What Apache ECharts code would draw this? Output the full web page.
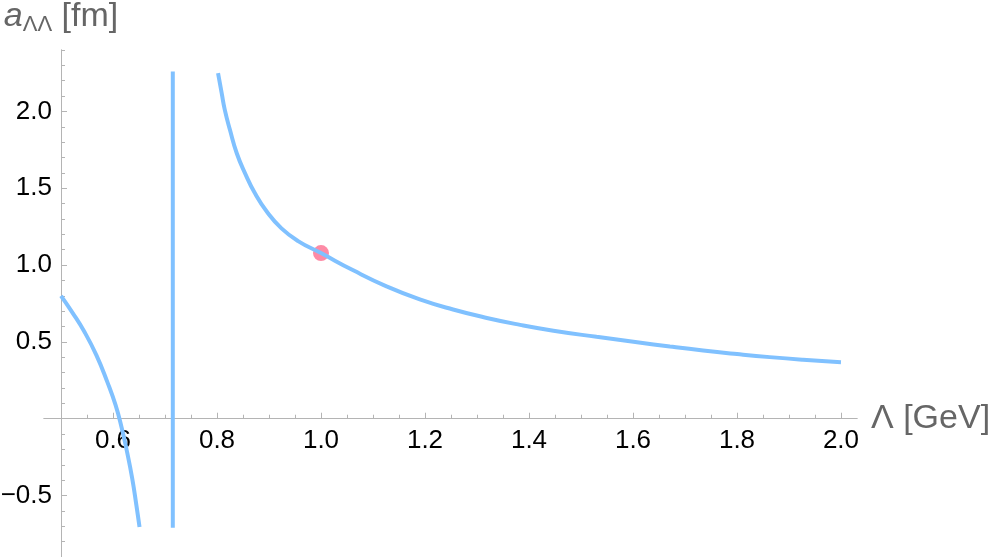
<!DOCTYPE html>
<html>
<head>
<meta charset="utf-8">
<script src="https://cdn.jsdelivr.net/npm/echarts@6/dist/echarts.min.js"></script>
<style>
  html, body { margin: 0; padding: 0; background: #fff; }
  #chart { width: 996px; height: 557px; }
</style>
</head>
<body>
<div id="chart"></div>
<script>
// branch left of the pole
var leftLambda = [0.5, 0.521, 0.545, 0.568, 0.589, 0.605, 0.617, 0.627, 0.637, 0.645, 0.651];
var leftA = [0.80, 0.696, 0.566, 0.414, 0.240, 0.088, -0.064, -0.216, -0.390, -0.564, -0.705];
// branch right of the pole
var rightLambda = [0.802, 0.809, 0.815, 0.825, 0.838, 0.854, 0.873, 0.896, 0.924, 0.956, 1.0, 1.062, 1.126, 1.19, 1.254, 1.319, 1.383, 1.447, 1.53, 1.608, 1.671, 1.735, 1.8, 1.863, 1.927, 2.0];
var rightA = [2.249, 2.119, 2.010, 1.879, 1.728, 1.597, 1.467, 1.347, 1.239, 1.156, 1.078, 0.966, 0.862, 0.777, 0.711, 0.656, 0.611, 0.573, 0.533, 0.498, 0.470, 0.444, 0.421, 0.401, 0.384, 0.368];
// vertical line at the pole
var poleLambda = 0.715;
var poleA = [-0.71, 2.26];
// marked point
var pointLambda = [1.0];
var pointA = [1.078];
// ticks
var xMajorTicks = [0.6, 0.8, 1.0, 1.2, 1.4, 1.6, 1.8, 2.0];
var xMinorTicks = [0.5, 0.55, 0.6, 0.65, 0.7, 0.75, 0.8, 0.85, 0.9, 0.95, 1.0, 1.05, 1.1, 1.15, 1.2, 1.25, 1.3, 1.35, 1.4, 1.45, 1.5, 1.55, 1.6, 1.65, 1.7, 1.75, 1.8, 1.85, 1.9, 1.95, 2.0];
var yMajorTicks = [-0.5, 0.5, 1.0, 1.5, 2.0];
var yMinorTicks = [-0.9, -0.8, -0.7, -0.6, -0.5, -0.4, -0.3, -0.2, -0.1, 0.1, 0.2, 0.3, 0.4, 0.5, 0.6, 0.7, 0.8, 0.9, 1.0, 1.1, 1.2, 1.3, 1.4, 1.5, 1.6, 1.7, 1.8, 1.9, 2.0, 2.1, 2.2, 2.3, 2.4];

function zip(xs, ys) {
  return xs.map(function (x, i) { return [x, ys[i]]; });
}

var axisGray = "#b4b4b4";
var font = "Liberation Sans, Arial, sans-serif";
var curveColor = "#80c1ff";

// grid box: x from 44 to 857, y from 50 to 557
var gridLeft = 44, gridRight = 139, gridTop = 50, gridBottom = 0;
var xMin = 0.4673, xMax = 2.0308, yMin = -0.9, yMax = 2.4;
// y axis sits at Lambda = 0.5, x axis at a = 0
var yAxisShift = -(0.5 - xMin) / (xMax - xMin) * (996 - gridLeft - gridRight);
var xAxisShift = -(0 - yMin) / (yMax - yMin) * (557 - gridTop - gridBottom);

var chart = echarts.init(document.getElementById("chart"));

var fmt = function (v) {
  return (Math.round(v * 10) / 10).toFixed(1).replace("-", "\u2212");
};

option = {
  animation: false,
  grid: { left: gridLeft, right: gridRight, top: gridTop, bottom: gridBottom, outerBoundsMode: "none", containLabel: false },
  xAxis: [
    {
      type: "value",
      position: "bottom",
      offset: xAxisShift,
      min: xMin,
      max: xMax,
      splitLine: { show: false },
      axisLine: { onZero: false, lineStyle: { color: axisGray, width: 1 } },
      axisTick: { inside: true, length: 6, customValues: xMajorTicks, lineStyle: { color: axisGray } },
      axisLabel: { customValues: xMajorTicks, formatter: fmt, color: "#000", fontSize: 26, fontFamily: font, margin: 9 },
      name: "\u039b [GeV]",
      nameLocation: "end",
      nameGap: 14,
      nameTextStyle: { color: "#666", fontSize: 34, fontFamily: font, verticalAlign: "middle" },
    },
    {
      type: "value",
      position: "bottom",
      offset: xAxisShift,
      min: xMin,
      max: xMax,
      splitLine: { show: false },
      axisLine: { onZero: false, lineStyle: { color: axisGray, width: 1 } },
      axisTick: { inside: true, length: 4, customValues: xMinorTicks, lineStyle: { color: axisGray } },
      axisLabel: { show: false },
    },
  ],
  yAxis: [
    {
      type: "value",
      position: "left",
      offset: yAxisShift,
      min: yMin,
      max: yMax,
      splitLine: { show: false },
      axisLine: { onZero: false, lineStyle: { color: axisGray, width: 1 } },
      axisTick: { inside: true, length: 6, customValues: yMajorTicks, lineStyle: { color: axisGray } },
      axisLabel: { customValues: yMajorTicks, formatter: fmt, color: "#000", fontSize: 26, fontFamily: font, margin: 9 },
      name: "{a|a}{s|\u039b\u039b}{b| [fm]}",
      nameLocation: "end",
      nameGap: 14,
      nameTextStyle: {
        color: "#666",
        fontFamily: font,
        rich: {
          a: { fontSize: 34, fontStyle: "italic", color: "#666", fontFamily: font },
          s: { fontSize: 22, color: "#666", fontFamily: font, verticalAlign: "bottom", padding: [16, 0, 0, 0] },
          b: { fontSize: 34, color: "#666", fontFamily: font },
        },
      },
    },
    {
      type: "value",
      position: "left",
      offset: yAxisShift,
      min: yMin,
      max: yMax,
      splitLine: { show: false },
      axisLine: { onZero: false, lineStyle: { color: axisGray, width: 1 } },
      axisTick: { inside: true, length: 4, customValues: yMinorTicks, lineStyle: { color: axisGray } },
      axisLabel: { show: false },
    },
  ],
  series: [
    {
      name: "left",
      type: "line",
      data: zip(leftLambda, leftA),
      smooth: 0.5,
      showSymbol: false,
      lineStyle: { color: curveColor, width: 4 },
    },
    {
      name: "pole",
      type: "line",
      data: [[poleLambda, poleA[0]], [poleLambda, poleA[1]]],
      showSymbol: false,
      lineStyle: { color: curveColor, width: 4 },
    },
    {
      name: "right",
      type: "line",
      data: zip(rightLambda, rightA),
      smooth: 0.5,
      showSymbol: false,
      lineStyle: { color: curveColor, width: 4 },
    },
    {
      name: "point",
      type: "scatter",
      data: zip(pointLambda, pointA),
      symbolSize: 16,
      itemStyle: { color: "#fd8ba6", opacity: 1 },
    },
  ],
};
chart.setOption(option);
</script>
</body>
</html>
